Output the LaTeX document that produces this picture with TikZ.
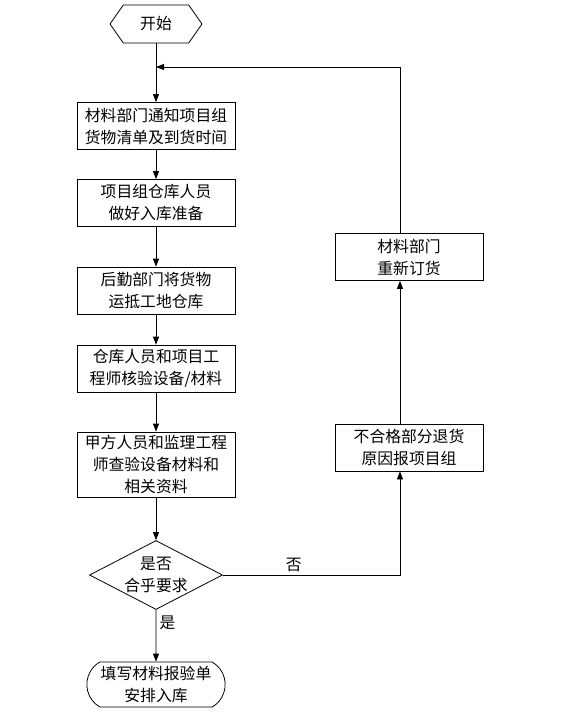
\documentclass[tikz,border=0pt]{standalone}
\usepackage{fontspec}
\newfontfamily\cjk{Noto Sans CJK SC}
\usetikzlibrary{arrows.meta, shapes.geometric, shapes.misc, shapes.symbols}

\begin{document}
\begin{tikzpicture}[x=1pt, y=-1pt,
    every node/.style={font=\cjk\fontsize{15.8}{22}\selectfont},
    block/.style={draw, line width=0.8pt, minimum width=158pt,
                  minimum height=47pt, align=center, inner sep=2pt},
    sideblock/.style={block, minimum width=148pt},
    arr/.style={-{Triangle[length=8pt, width=6pt]}, line width=0.8pt}
  ]
    \useasboundingbox (0,0) rectangle (583,721);

    \node[draw, line width=0.8pt, signal, signal to=west and east,
          signal pointer angle=110, minimum width=92pt,
          minimum height=38pt] (start) at (156,24) {开始};
    \node[block] (notify) at (156,126) {材料部门通知项目组\\货物清单及到货时间};
    \node[block] (prepare) at (156,203) {项目组仓库人员\\做好入库准备};
    \node[block] (deliver) at (156,290.5) {后勤部门将货物\\运抵工地仓库};
    \node[block] (inspect) at (156,368.5) {仓库人员和项目工\\程师核验设备/材料};
    \node[block, minimum height=65pt] (review) at (156,464.5)
      {甲方人员和监理工程\\师查验设备材料和\\相关资料};
    \node[draw, line width=0.8pt, diamond, aspect=1.93, inner sep=0pt,
          minimum width=133pt, minimum height=69pt,
          label={[align=center]center:{是否\\合乎要求}}] (check) at (156,575) {};
    \node[draw, line width=0.8pt, rounded rectangle,
          rounded rectangle arc length=120, minimum width=145pt,
          minimum height=45pt, align=center] (store) at (156,684.5)
      {填写材料报验单\\安排入库};
    \node[sideblock] (reject) at (409,447.5) {不合格部分退货\\原因报项目组};
    \node[sideblock] (reorder) at (409,257) {材料部门\\重新订货};

    \coordinate (merge) at (156,67);
    \coordinate (rtop) at (400,67);

    % main column
    \draw[arr] (start.south) -- (notify.north);
    \draw[arr] (notify) -- (prepare);
    \draw[arr] (prepare) -- (deliver);
    \draw[arr] (deliver) -- (inspect);
    \draw[arr] (inspect) -- (review);
    \draw[arr] (review) -- (check);
    \draw[arr] (check) -- node[right, pos=0.25] {是} (store);

    % return loop
    \draw[arr] (check.east) -- node[above, pos=0.4] {否} (check.east -| rtop)
      -- (reject.south -| rtop);
    \draw[arr] (reject.north -| rtop) -- (reorder.south -| rtop);
    \draw[arr] (reorder.north -| rtop) -- (rtop) -- (merge);
  \end{tikzpicture}
\end{document}
